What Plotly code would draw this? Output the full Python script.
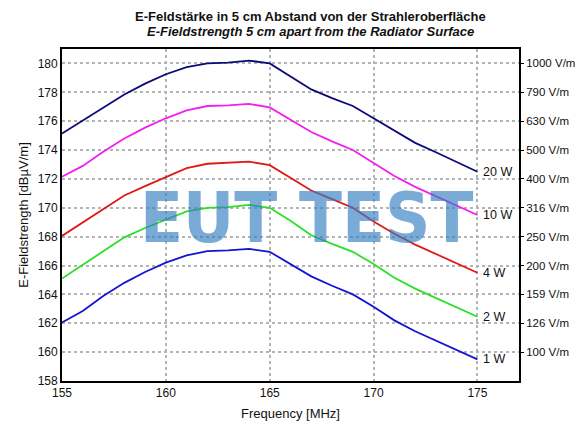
import plotly.graph_objects as go

# frequency axis (MHz) and field strength readings in dBuV/m per power level
freq = [155, 156, 157, 158, 159, 160, 161, 162, 163, 164, 165,
        166, 167, 168, 169, 170, 171, 172, 173, 174, 175]

e_20w = [175.15, 176.05, 176.95, 177.85, 178.6, 179.25, 179.75, 180.0, 180.05, 180.2, 180.0,
         179.1, 178.2, 177.6, 177.05, 176.2, 175.35, 174.5, 173.85, 173.2, 172.5]
e_10w = [172.15, 172.9, 173.9, 174.8, 175.55, 176.2, 176.75, 177.05, 177.1, 177.2, 176.95,
         176.1, 175.25, 174.6, 174.0, 173.1, 172.2, 171.45, 170.8, 170.15, 169.5]
e_4w = [168.05, 169.0, 169.95, 170.85, 171.5, 172.1, 172.75, 173.05, 173.1, 173.2, 172.95,
        172.1, 171.2, 170.6, 170.0, 169.05, 168.2, 167.45, 166.8, 166.15, 165.5]
e_2w = [165.1, 166.05, 167.0, 167.95, 168.6, 169.15, 169.75, 170.0, 170.05, 170.2, 170.0,
        169.1, 168.1, 167.5, 166.95, 166.1, 165.15, 164.4, 163.75, 163.1, 162.45]
e_1w = [162.05, 162.85, 163.9, 164.8, 165.55, 166.2, 166.7, 167.0, 167.05, 167.15, 166.95,
        166.1, 165.25, 164.6, 164.0, 163.15, 162.2, 161.45, 160.8, 160.15, 159.5]

power_labels = ["20 W", "10 W", "4 W", "2 W", "1 W"]
series = [e_20w, e_10w, e_4w, e_2w, e_1w]
colors = ["#0a0a78", "#f020f0", "#e01818", "#28e028", "#1414d2"]

# right axis: dB values and their V/m equivalents
vm_ticks = [180, 178, 176, 174, 172, 170, 168, 166, 164, 162, 160]
vm_labels = ["1000 V/m", "790 V/m", "630 V/m", "500 V/m", "400 V/m", "316 V/m",
             "250 V/m", "200 V/m", "159 V/m", "126 V/m", "100 V/m"]

FONT = "Liberation Sans, Arial, sans-serif"
YRANGE = [158, 181]

fig = go.Figure()

for name, vals, col in zip(power_labels, series, colors):
    fig.add_trace(go.Scatter(x=freq, y=vals, mode="lines", name=name,
                             line=dict(color=col, width=1.8), showlegend=False))
    fig.add_annotation(x=freq[-1], y=vals[-1], text=name, showarrow=False,
                       xanchor="left", yanchor="middle", xshift=4,
                       font=dict(family=FONT, size=12.5, color="#111"))

# invisible trace so the right axis gets drawn
fig.add_trace(go.Scatter(x=freq, y=e_1w, yaxis="y2", mode="lines",
                         line=dict(width=0), opacity=0, hoverinfo="skip", showlegend=False))

grid = dict(showgrid=True, gridcolor="#b4b4b4", gridwidth=1.5, griddash="dot")

# the html page has an 8px body margin, so the figure is a bit smaller than the window
fig.update_layout(
    width=575, height=421,
    margin=dict(l=54, r=64, t=41, b=48),
    plot_bgcolor="white", paper_bgcolor="white",
    font=dict(family=FONT, size=12, color="#111"),
    xaxis=dict(range=[155, 177], tickvals=[155, 160, 165, 170, 175],
               showline=True, linecolor="black", linewidth=1.8, mirror=True,
               ticks="", zeroline=False, automargin=False,
               title=dict(text="Frequency [MHz]", font=dict(size=13), standoff=10),
               **grid),
    yaxis=dict(range=YRANGE, tickvals=list(range(158, 181, 2)),
               showline=True, linecolor="black", linewidth=1.8, mirror=True,
               ticks="", zeroline=False, automargin=False,
               title=dict(text="E-Fieldstrength [dBµV/m]", font=dict(size=13), standoff=6),
               **grid),
    yaxis2=dict(range=YRANGE, overlaying="y", side="right", tickvals=vm_ticks,
                ticktext=vm_labels, showgrid=False, zeroline=False, automargin=False,
                ticks="outside", ticklen=3, tickcolor="black",
                tickfont=dict(size=11.5),
                showline=True, linecolor="black", linewidth=1.8),
)

# two-line heading
fig.add_annotation(text="<b>E-Feldstärke in 5 cm Abstand von der Strahleroberfläche</b>",
                   xref="paper", yref="paper", x=0.543, y=1, yshift=33, yanchor="middle",
                   showarrow=False, font=dict(size=13, color="#111"))
fig.add_annotation(text="<b><i>E-Fieldstrength 5 cm apart from the Radiator Surface</i></b>",
                   xref="paper", yref="paper", x=0.543, y=1, yshift=18, yanchor="middle",
                   showarrow=False, font=dict(size=13, color="#111"))

# watermark
fig.add_annotation(text="EUT TEST", xref="paper", yref="paper", x=0.535, y=0.49,
                   xanchor="center", yanchor="middle", showarrow=False,
                   font=dict(family="Liberation Sans Narrow, DejaVu Sans Condensed, Arial Narrow, sans-serif",
                             size=70, color="rgba(50,124,192,0.65)", weight=700))

fig.write_html("out.html")
